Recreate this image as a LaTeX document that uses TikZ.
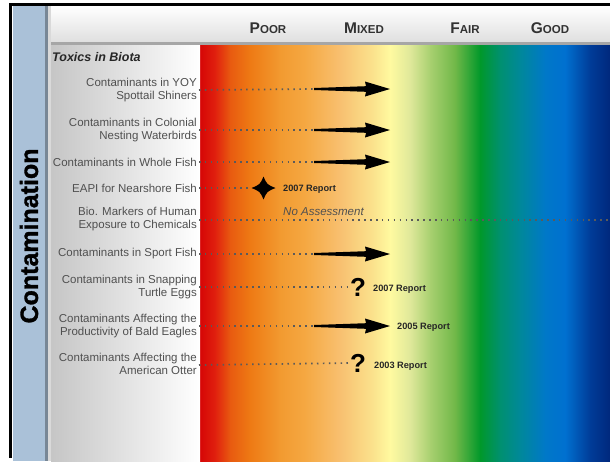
\documentclass[tikz,border=0pt]{standalone}
\usepackage{fontspec}
\setmainfont{Liberation Sans}
\setsansfont{Liberation Sans}
\newfontfamily\heavyfont[FakeBold=1.3]{Liberation Sans Bold}
\definecolor{bandblue}{RGB}{170,193,216}
\definecolor{bandline}{RGB}{120,135,150}
\definecolor{labgray}{RGB}{80,80,80}
\definecolor{headtxt}{RGB}{50,50,50}
\definecolor{dotgray}{RGB}{90,90,90}
\definecolor{sp0}{RGB}{214,6,6}
\definecolor{sp1}{RGB}{224,32,14}
\definecolor{sp2}{RGB}{232,90,16}
\definecolor{sp3}{RGB}{238,122,20}
\definecolor{sp4}{RGB}{242,154,48}
\definecolor{sp5}{RGB}{245,168,66}
\definecolor{sp6}{RGB}{248,192,112}
\definecolor{sp7}{RGB}{251,229,143}
\definecolor{sp8}{RGB}{255,250,160}
\definecolor{sp9}{RGB}{223,232,154}
\definecolor{sp10}{RGB}{168,208,112}
\definecolor{sp11}{RGB}{112,184,72}
\definecolor{sp12}{RGB}{0,152,42}
\definecolor{sp13}{RGB}{0,144,112}
\definecolor{sp14}{RGB}{0,136,154}
\definecolor{sp15}{RGB}{0,120,200}
\definecolor{sp16}{RGB}{0,112,208}
\definecolor{sp17}{RGB}{0,60,152}
\definecolor{sp18}{RGB}{0,40,124}
\tikzset{
  lab/.style={anchor=east, align=right, text=labgray, inner sep=0pt,
    font=\fontsize{11.5}{13}\selectfont},
  head/.style={text=headtxt, inner sep=0pt, font=\bfseries},
  dots/.style={dotgray, line width=1.7pt, dash pattern=on 1.5pt off 4.4pt},
  rep/.style={anchor=west, inner sep=0pt, text=black!85, font=\bfseries\fontsize{9.2}{10}\selectfont},
  qm/.style={inner sep=0pt, font=\bfseries\fontsize{26}{26}\selectfont},
}
\newcommand{\hdbig}[1]{{\fontsize{15.5}{16}\selectfont #1}}
\newcommand{\hdsmall}[1]{{\fontsize{11.5}{12}\selectfont #1}}
\newcommand{\myarrow}[1]{%
  \fill[black] (#1) ++(0,-1) -- ++(52,-1.8) -- ++(-1,-4.7) -- ++(25,7.5)
     -- ++(-25,7.5) -- ++(1,-4.7) -- ++(-52,-1.8) -- cycle;}
\begin{document}
\begin{tikzpicture}[x=1pt,y=-1pt]
\useasboundingbox (0,0) rectangle (610,461);
\fill[white] (0,0) rectangle (610,461);
% spectrum
\foreach \xa/\ca/\xb/\cb in {200/sp0/215/sp1,215/sp1/230/sp2,230/sp2/250/sp3,250/sp3/280/sp4,
  280/sp4/305/sp5,305/sp5/340/sp6,340/sp6/375/sp7,375/sp7/390/sp8,390/sp8/410/sp9,
  410/sp9/430/sp10,430/sp10/455/sp11,455/sp11/480/sp12,480/sp12/500/sp13,500/sp13/520/sp14,
  520/sp14/545/sp15,545/sp15/565/sp16,565/sp16/590/sp17,590/sp17/610/sp18}
  {\shade[left color=\ca, right color=\cb] (\xa,44) rectangle (\xb+0.4,461);}
% label panel
\shade[left color=gray!45, right color=white] (51,44) rectangle (200,461);
% header
\shade[top color=white, bottom color=gray!25] (51,6) rectangle (610,42);
\fill[gray!70] (51,42) rectangle (610,44.5);
% left band
\fill[bandblue] (13,6) rectangle (45,461);
\fill[bandline] (45,6) rectangle (48,461);
\fill[gray!30] (48,6) rectangle (51,461);
% frame
\fill[black] (9,3) rectangle (610,6);
\fill[black] (9,3) rectangle (11.5,458);
\node[rotate=90, inner sep=0pt, font=\heavyfont\fontsize{25}{25}\selectfont] (title) at (29,236) {Contamination};
% header texts
\node[head] (poor) at (268,28) {\hdbig{P}\hdsmall{OOR}};
\node[head] (mixed) at (364,28) {\hdbig{M}\hdsmall{IXED}};
\node[head] (fair) at (465,28) {\hdbig{F}\hdsmall{AIR}};
\node[head] (good) at (550,28) {\hdbig{G}\hdsmall{OOD}};
\node[anchor=west, inner sep=0pt, text=black!85, font=\bfseries\itshape\fontsize{12.5}{13}\selectfont] (toxics) at (52,57) {Toxics in Biota};
% labels
\node[lab] (l1) at (197,90) {Contaminants in YOY\\Spottail Shiners};
\node[lab] (l2) at (197,130) {Contaminants in Colonial\\Nesting Waterbirds};
\node[lab] (l3) at (197,162) {Contaminants in Whole Fish};
\node[lab] (l4) at (197,188) {EAPI for Nearshore Fish};
\node[lab] (l5) at (197,219) {Bio. Markers of Human\\Exposure to Chemicals};
\node[lab] (l6) at (197,254) {Contaminants in Sport Fish};
\node[lab] (l7) at (197,287) {Contaminants in Snapping\\Turtle Eggs};
\node[lab] (l8) at (197,326) {Contaminants Affecting the\\Productivity of Bald Eagles};
\node[lab] (l9) at (197,364) {Contaminants Affecting the\\American Otter};
% arrow start coordinates
\coordinate (a1) at (314,89);
\coordinate (a2) at (314,130);
\coordinate (a3) at (314,162);
\coordinate (a6) at (314,254);
\coordinate (a8) at (314,326);
\coordinate (sW) at (252,188);
\coordinate (e5) at (610,220);
\draw[dots] (l1.east) ++(2,0) -- (a1);
\draw[dots] (l2.east) ++(2,0) -- (a2);
\draw[dots] (l3.east) ++(2,0) -- (a3);
\draw[dots] (l4.east) ++(2,0) -- (sW);
\draw[dots] (l5.east) ++(2,1) -- (e5);
\draw[dots] (l6.east) ++(2,0) -- (a6);
\draw[dots] (l8.east) ++(2,0) -- (a8);
\myarrow{a1}
\myarrow{a2}
\myarrow{a3}
\myarrow{a6}
\myarrow{a8}
% star
\fill[black] (263.5,176.5) .. controls (267,184.5) .. (275.5,188) .. controls (267,191.5) .. (263.5,199.5)
   .. controls (260,191.5) .. (251.5,188) .. controls (260,184.5) .. (263.5,176.5) -- cycle;
\node[rep] (r4) at (283,189) {2007 Report};
\node[inner sep=0pt, text=labgray, font=\itshape\fontsize{11.5}{12}\selectfont, anchor=west] (na) at (283,212) {No Assessment};
% question marks
\node[qm] (q7) at (358,287) {?};
\node[qm] (q9) at (358,363) {?};
\draw[dots] (l7.east) ++(2,0) -- (q7.west);
\draw[dots] (l9.east) ++(2,1) -- (q9.west);
\node[rep] (r7) at (373,289) {2007 Report};
\node[rep] (r8) at (397,327) {2005 Report};
\node[rep] (r9) at (374,366) {2003 Report};
\end{tikzpicture}
\end{document}
